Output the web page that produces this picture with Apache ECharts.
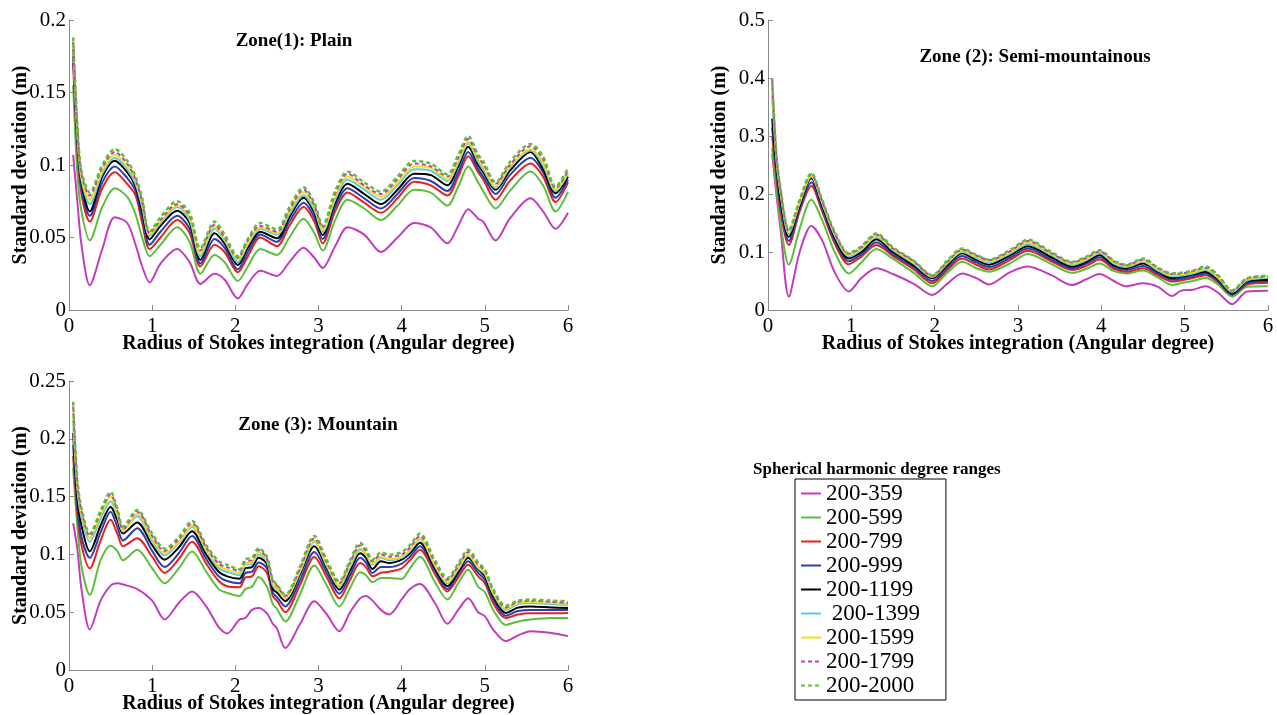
<!DOCTYPE html>
<html>
<head>
    <meta charset="utf-8">
    <title>Standard deviation vs radius of Stokes integration</title>
    <script src="https://cdn.jsdelivr.net/npm/echarts@6/dist/echarts.min.js"></script>
</head>
<body style="margin:0;background:#fff;">
    <div id="main" style="width:1277px;height:715px;"></div>
    <script type="text/javascript">
        // legend names (spherical harmonic degree ranges)
        var names = ['200-359', '200-599', '200-799', '200-999', '200-1199', '200-1399', '200-1599', '200-1799', '200-2000'];
        var xTicks = [0, 1, 2, 3, 4, 5, 6];

        // Zone 1: plain
        var plainX = [0.05, 0.1, 0.15, 0.25, 0.4, 0.55, 0.7, 0.8, 0.88, 0.97, 1.1, 1.3, 1.45, 1.58, 1.75, 1.87, 2.03, 2.15, 2.3, 2.5, 2.65, 2.82, 2.95, 3.05, 3.2, 3.35, 3.55, 3.75, 3.95, 4.15, 4.35, 4.55, 4.68, 4.8, 4.92, 4.98, 5.13, 5.3, 5.55, 5.7, 5.85, 6.0];
        var plain359 = [0.107, 0.075, 0.045, 0.017, 0.042, 0.064, 0.060, 0.045, 0.030, 0.019, 0.032, 0.042, 0.033, 0.018, 0.025, 0.021, 0.008, 0.018, 0.027, 0.0235, 0.033, 0.043, 0.036, 0.029, 0.044, 0.057, 0.052, 0.040, 0.050, 0.060, 0.057, 0.046, 0.058, 0.0695, 0.063, 0.061, 0.048, 0.063, 0.077, 0.068, 0.056, 0.067];
        var plain599 = [0.155, 0.095, 0.068, 0.048, 0.071, 0.084, 0.078, 0.066, 0.050, 0.037, 0.045, 0.057, 0.047, 0.025, 0.038, 0.033, 0.020, 0.030, 0.042, 0.038, 0.050, 0.063, 0.053, 0.041, 0.062, 0.076, 0.070, 0.062, 0.072, 0.083, 0.081, 0.072, 0.085, 0.099, 0.088, 0.082, 0.070, 0.082, 0.0955, 0.086, 0.068, 0.0815];
        var plain799 = [0.170, 0.110, 0.080, 0.061, 0.084, 0.095, 0.087, 0.079, 0.060, 0.042, 0.050, 0.062, 0.053, 0.030, 0.045, 0.040, 0.026, 0.037, 0.050, 0.044, 0.058, 0.071, 0.061, 0.046, 0.068, 0.081, 0.074, 0.067, 0.077, 0.0885, 0.086, 0.079, 0.092, 0.106, 0.095, 0.090, 0.076, 0.089, 0.101, 0.092, 0.0745, 0.088];
        var plain999 = [0.175, 0.115, 0.084, 0.065, 0.088, 0.099, 0.091, 0.082, 0.064, 0.045, 0.054, 0.065, 0.056, 0.032, 0.049, 0.043, 0.028, 0.040, 0.052, 0.047, 0.061, 0.074, 0.064, 0.049, 0.071, 0.084, 0.077, 0.070, 0.080, 0.091, 0.089, 0.082, 0.095, 0.109, 0.097, 0.092, 0.080, 0.093, 0.105, 0.095, 0.0775, 0.090];
        var plain1199 = [0.180, 0.120, 0.088, 0.068, 0.092, 0.103, 0.095, 0.085, 0.068, 0.0487, 0.058, 0.0685, 0.060, 0.0345, 0.053, 0.046, 0.031, 0.043, 0.054, 0.0494, 0.064, 0.0775, 0.067, 0.0517, 0.074, 0.087, 0.080, 0.073, 0.083, 0.094, 0.093, 0.086, 0.099, 0.1126, 0.100, 0.095, 0.083, 0.096, 0.109, 0.097, 0.0805, 0.092];
        var plain1399 = [0.182, 0.122, 0.090, 0.073, 0.094, 0.105, 0.097, 0.087, 0.071, 0.051, 0.060, 0.071, 0.062, 0.037, 0.056, 0.048, 0.033, 0.045, 0.056, 0.052, 0.066, 0.079, 0.069, 0.054, 0.076, 0.090, 0.083, 0.076, 0.086, 0.097, 0.096, 0.089, 0.101, 0.115, 0.102, 0.097, 0.084, 0.098, 0.110, 0.100, 0.082, 0.094];
        var plain1599 = [0.184, 0.124, 0.092, 0.076, 0.096, 0.107, 0.099, 0.089, 0.073, 0.052, 0.061, 0.072, 0.064, 0.039, 0.058, 0.049, 0.035, 0.046, 0.057, 0.053, 0.068, 0.081, 0.071, 0.055, 0.078, 0.092, 0.085, 0.078, 0.088, 0.099, 0.098, 0.090, 0.103, 0.116, 0.104, 0.099, 0.085, 0.099, 0.111, 0.102, 0.083, 0.095];
        var plain1799 = [0.185, 0.126, 0.094, 0.079, 0.098, 0.109, 0.101, 0.090, 0.075, 0.053, 0.062, 0.073, 0.065, 0.041, 0.059, 0.050, 0.036, 0.048, 0.058, 0.054, 0.069, 0.083, 0.072, 0.057, 0.080, 0.094, 0.086, 0.080, 0.090, 0.101, 0.099, 0.092, 0.105, 0.118, 0.105, 0.101, 0.087, 0.100, 0.113, 0.104, 0.084, 0.096];
        var plain2000 = [0.188, 0.128, 0.096, 0.081, 0.100, 0.111, 0.103, 0.092, 0.077, 0.054, 0.064, 0.075, 0.067, 0.0425, 0.061, 0.052, 0.037, 0.049, 0.060, 0.0556, 0.071, 0.0846, 0.074, 0.058, 0.082, 0.0954, 0.088, 0.0816, 0.092, 0.1028, 0.101, 0.0935, 0.107, 0.120, 0.107, 0.1028, 0.088, 0.102, 0.1145, 0.106, 0.085, 0.0977];

        // Zone 2: semi-mountainous
        var semiX = [0.05, 0.1, 0.15, 0.25, 0.38, 0.52, 0.65, 0.8, 0.97, 1.12, 1.3, 1.5, 1.75, 1.97, 2.15, 2.33, 2.5, 2.65, 2.9, 3.12, 3.4, 3.65, 3.82, 3.98, 4.15, 4.3, 4.5, 4.68, 4.85, 4.95, 5.1, 5.25, 5.4, 5.57, 5.75, 6.0];
        var semi359 = [0.269, 0.20, 0.14, 0.023, 0.10, 0.145, 0.12, 0.065, 0.032, 0.055, 0.072, 0.062, 0.045, 0.026, 0.045, 0.063, 0.055, 0.044, 0.065, 0.075, 0.060, 0.043, 0.053, 0.062, 0.050, 0.041, 0.046, 0.040, 0.024, 0.033, 0.035, 0.041, 0.030, 0.010, 0.032, 0.033];
        var semi599 = [0.28, 0.21, 0.15, 0.078, 0.14, 0.19, 0.155, 0.10, 0.063, 0.082, 0.105, 0.088, 0.064, 0.041, 0.064, 0.083, 0.072, 0.066, 0.080, 0.0966, 0.079, 0.064, 0.071, 0.080, 0.067, 0.063, 0.068, 0.056, 0.043, 0.046, 0.050, 0.055, 0.044, 0.023, 0.040, 0.041];
        var semi799 = [0.30, 0.23, 0.17, 0.112, 0.17, 0.214, 0.17, 0.115, 0.079, 0.092, 0.112, 0.093, 0.070, 0.046, 0.069, 0.089, 0.078, 0.070, 0.086, 0.102, 0.084, 0.069, 0.076, 0.087, 0.071, 0.066, 0.072, 0.060, 0.049, 0.051, 0.055, 0.060, 0.048, 0.026, 0.044, 0.047];
        var semi999 = [0.315, 0.24, 0.18, 0.119, 0.175, 0.220, 0.175, 0.12, 0.084, 0.096, 0.117, 0.096, 0.074, 0.050, 0.073, 0.093, 0.082, 0.074, 0.090, 0.106, 0.087, 0.072, 0.080, 0.091, 0.074, 0.069, 0.076, 0.063, 0.052, 0.054, 0.058, 0.063, 0.050, 0.027, 0.046, 0.050];
        var semi1199 = [0.33, 0.25, 0.19, 0.126, 0.18, 0.227, 0.18, 0.125, 0.089, 0.100, 0.122, 0.100, 0.077, 0.0546, 0.077, 0.098, 0.086, 0.078, 0.094, 0.110, 0.091, 0.075, 0.083, 0.095, 0.077, 0.072, 0.080, 0.066, 0.055, 0.057, 0.061, 0.066, 0.053, 0.029, 0.049, 0.052];
        var semi1399 = [0.37, 0.26, 0.20, 0.131, 0.184, 0.230, 0.184, 0.129, 0.093, 0.104, 0.126, 0.103, 0.080, 0.057, 0.080, 0.100, 0.090, 0.082, 0.097, 0.114, 0.095, 0.078, 0.086, 0.098, 0.080, 0.074, 0.083, 0.068, 0.058, 0.059, 0.063, 0.069, 0.055, 0.031, 0.051, 0.055];
        var semi1599 = [0.39, 0.265, 0.205, 0.134, 0.186, 0.232, 0.186, 0.131, 0.095, 0.106, 0.128, 0.105, 0.082, 0.058, 0.082, 0.102, 0.092, 0.084, 0.099, 0.117, 0.097, 0.080, 0.088, 0.100, 0.082, 0.076, 0.085, 0.070, 0.060, 0.061, 0.065, 0.071, 0.057, 0.032, 0.053, 0.057];
        var semi1799 = [0.395, 0.268, 0.208, 0.136, 0.188, 0.234, 0.188, 0.133, 0.097, 0.108, 0.130, 0.106, 0.084, 0.059, 0.083, 0.104, 0.094, 0.086, 0.101, 0.119, 0.098, 0.082, 0.090, 0.101, 0.084, 0.077, 0.087, 0.072, 0.062, 0.063, 0.067, 0.073, 0.059, 0.033, 0.054, 0.058];
        var semi2000 = [0.40, 0.27, 0.21, 0.138, 0.19, 0.236, 0.19, 0.135, 0.098, 0.110, 0.132, 0.108, 0.085, 0.060, 0.085, 0.106, 0.095, 0.087, 0.103, 0.121, 0.100, 0.083, 0.092, 0.103, 0.085, 0.078, 0.089, 0.073, 0.063, 0.064, 0.068, 0.075, 0.060, 0.034, 0.055, 0.059];

        // Zone 3: mountain
        var mountX = [0.05, 0.1, 0.15, 0.25, 0.38, 0.5, 0.58, 0.65, 0.82, 1.0, 1.15, 1.32, 1.48, 1.65, 1.8, 1.9, 2.05, 2.12, 2.2, 2.28, 2.38, 2.45, 2.5, 2.6, 2.78, 2.95, 3.1, 3.25, 3.38, 3.5, 3.57, 3.65, 3.75, 3.85, 4.0, 4.1, 4.22, 4.4, 4.55, 4.68, 4.8, 4.92, 5.0, 5.1, 5.25, 5.4, 5.55, 5.8, 6.0];
        var mount359 = [0.127, 0.105, 0.07, 0.035, 0.060, 0.073, 0.075, 0.074, 0.070, 0.060, 0.0437, 0.058, 0.068, 0.055, 0.037, 0.0316, 0.0437, 0.045, 0.052, 0.0537, 0.049, 0.040, 0.036, 0.019, 0.040, 0.0595, 0.048, 0.0336, 0.050, 0.062, 0.064, 0.060, 0.052, 0.048, 0.061, 0.070, 0.0744, 0.058, 0.040, 0.052, 0.062, 0.050, 0.0466, 0.035, 0.025, 0.030, 0.0336, 0.032, 0.0293];
        var mount599 = [0.175, 0.125, 0.09, 0.065, 0.095, 0.1075, 0.103, 0.095, 0.104, 0.088, 0.075, 0.088, 0.1026, 0.085, 0.070, 0.0667, 0.064, 0.070, 0.072, 0.0805, 0.072, 0.057, 0.053, 0.042, 0.066, 0.0905, 0.073, 0.055, 0.071, 0.0845, 0.082, 0.076, 0.0796, 0.0796, 0.0787, 0.088, 0.098, 0.076, 0.061, 0.075, 0.0868, 0.072, 0.0675, 0.052, 0.039, 0.042, 0.0437, 0.045, 0.045];
        var mount799 = [0.185, 0.135, 0.108, 0.088, 0.112, 0.130, 0.118, 0.107, 0.114, 0.098, 0.084, 0.096, 0.111, 0.092, 0.077, 0.0724, 0.0716, 0.080, 0.081, 0.0897, 0.084, 0.064, 0.060, 0.050, 0.074, 0.0977, 0.080, 0.062, 0.078, 0.0925, 0.089, 0.081, 0.084, 0.085, 0.088, 0.095, 0.104, 0.083, 0.068, 0.080, 0.091, 0.081, 0.075, 0.058, 0.045, 0.048, 0.049, 0.049, 0.0494];
        var mount999 = [0.195, 0.142, 0.115, 0.097, 0.119, 0.137, 0.124, 0.112, 0.1227, 0.103, 0.089, 0.101, 0.116, 0.096, 0.081, 0.077, 0.075, 0.084, 0.085, 0.093, 0.088, 0.067, 0.063, 0.055, 0.078, 0.102, 0.084, 0.066, 0.082, 0.097, 0.093, 0.084, 0.089, 0.089, 0.092, 0.098, 0.107, 0.086, 0.070, 0.083, 0.094, 0.084, 0.078, 0.061, 0.047, 0.051, 0.052, 0.052, 0.052];
        var mount1199 = [0.205, 0.150, 0.125, 0.1026, 0.125, 0.141, 0.130, 0.118, 0.1276, 0.108, 0.0954, 0.106, 0.120, 0.100, 0.085, 0.081, 0.079, 0.088, 0.089, 0.097, 0.0917, 0.070, 0.067, 0.0595, 0.083, 0.107, 0.088, 0.0695, 0.086, 0.101, 0.097, 0.0874, 0.094, 0.0925, 0.0954, 0.101, 0.110, 0.088, 0.0724, 0.085, 0.097, 0.087, 0.081, 0.064, 0.0494, 0.054, 0.055, 0.054, 0.0537];
        var mount1399 = [0.215, 0.157, 0.132, 0.111, 0.131, 0.146, 0.134, 0.121, 0.133, 0.112, 0.099, 0.110, 0.124, 0.103, 0.088, 0.085, 0.082, 0.091, 0.092, 0.100, 0.094, 0.073, 0.070, 0.062, 0.085, 0.111, 0.090, 0.072, 0.089, 0.104, 0.100, 0.091, 0.097, 0.095, 0.097, 0.103, 0.113, 0.090, 0.075, 0.087, 0.099, 0.088, 0.083, 0.066, 0.052, 0.057, 0.058, 0.057, 0.056];
        var mount1599 = [0.222, 0.160, 0.135, 0.114, 0.134, 0.150, 0.135, 0.120, 0.135, 0.114, 0.101, 0.111, 0.125, 0.104, 0.090, 0.087, 0.084, 0.092, 0.093, 0.102, 0.095, 0.075, 0.071, 0.062, 0.086, 0.112, 0.091, 0.073, 0.091, 0.106, 0.101, 0.092, 0.098, 0.096, 0.098, 0.104, 0.114, 0.091, 0.076, 0.088, 0.100, 0.089, 0.084, 0.067, 0.053, 0.058, 0.059, 0.058, 0.057];
        var mount1799 = [0.228, 0.162, 0.138, 0.116, 0.136, 0.152, 0.138, 0.122, 0.137, 0.116, 0.103, 0.113, 0.127, 0.106, 0.092, 0.089, 0.086, 0.094, 0.095, 0.104, 0.096, 0.077, 0.073, 0.064, 0.088, 0.114, 0.093, 0.075, 0.093, 0.108, 0.103, 0.094, 0.100, 0.098, 0.100, 0.106, 0.116, 0.093, 0.078, 0.090, 0.102, 0.091, 0.086, 0.069, 0.054, 0.059, 0.060, 0.059, 0.058];
        var mount2000 = [0.232, 0.165, 0.14, 0.118, 0.138, 0.154, 0.140, 0.124, 0.1385, 0.118, 0.105, 0.115, 0.129, 0.108, 0.094, 0.091, 0.087, 0.096, 0.097, 0.1055, 0.098, 0.078, 0.074, 0.065, 0.090, 0.116, 0.095, 0.0767, 0.095, 0.110, 0.105, 0.0954, 0.1017, 0.0997, 0.102, 0.108, 0.118, 0.095, 0.0796, 0.092, 0.104, 0.093, 0.087, 0.070, 0.0557, 0.060, 0.061, 0.060, 0.0595];

        var lineStyles = [
            {color: '#c23dbb', type: 'solid', width: 2},
            {color: '#5cbf3c', type: 'solid', width: 2},
            {color: '#e5221d', type: 'solid', width: 2},
            {color: '#2b3fae', type: 'solid', width: 2},
            {color: '#000000', type: 'solid', width: 2},
            {color: '#5ecbdc', type: 'solid', width: 2},
            {color: '#f3e01a', type: 'solid', width: 2},
            {color: '#c23dbb', type: [4, 3], width: 2},
            {color: '#5cbf3c', type: [4, 3], width: 2.5}
        ];

        var serif = 'Liberation Serif';

        function makeSeries(gi, xs, lists) {
            return lists.map(function (ys, i) {
                return {
                    name: names[i],
                    type: 'line',
                    xAxisIndex: gi,
                    yAxisIndex: gi,
                    symbol: 'none',
                    smooth: 0.3,
                    silent: true,
                    lineStyle: lineStyles[i],
                    itemStyle: {color: lineStyles[i].color},
                    data: ys.map(function (y, j) { return [xs[j], y]; })
                };
            });
        }

        var series = [].concat(
            makeSeries(0, plainX, [plain359, plain599, plain799, plain999, plain1199, plain1399, plain1599, plain1799, plain2000]),
            makeSeries(1, semiX, [semi359, semi599, semi799, semi999, semi1199, semi1399, semi1599, semi1799, semi2000]),
            makeSeries(2, mountX, [mount359, mount599, mount799, mount999, mount1199, mount1399, mount1599, mount1799, mount2000])
        );

        function xAx(gi) {
            return {
                type: 'value', gridIndex: gi, min: xTicks[0], max: xTicks[xTicks.length - 1], interval: 1,
                name: 'Radius of Stokes integration (Angular degree)',
                nameLocation: 'middle', nameGap: 24, nameMoveOverlap: false,
                nameTextStyle: {fontFamily: serif, fontWeight: 'bold', fontSize: 20, color: '#000'},
                axisLine: {lineStyle: {color: '#888', width: 1}},
                axisTick: {inside: true, length: 5, lineStyle: {color: '#888'}},
                axisLabel: {fontFamily: serif, fontSize: 21, color: '#000', margin: 6},
                splitLine: {show: false}
            };
        }
        function yAx(gi, max, step) {
            return {
                type: 'value', gridIndex: gi, min: 0, max: max, interval: step,
                name: 'Standard deviation (m)',
                nameLocation: 'middle', nameGap: 38, nameMoveOverlap: false,
                nameTextStyle: {fontFamily: serif, fontWeight: 'bold', fontSize: 20, color: '#000'},
                axisLine: {show: true, lineStyle: {color: '#888', width: 1}},
                axisTick: {show: true, inside: true, length: 5, lineStyle: {color: '#888'}},
                axisLabel: {fontFamily: serif, fontSize: 21, color: '#000', margin: 3},
                splitLine: {show: false}
            };
        }

        var myChart = echarts.init(document.getElementById('main'));
        var option = {
            backgroundColor: '#fff',
            animation: false,
            title: [
                {text: 'Zone(1): Plain', left: 289, top: 27, textAlign: 'center',
                    textStyle: {fontFamily: serif, fontWeight: 'bold', fontSize: 19, color: '#000'}},
                {text: 'Zone (2): Semi-mountainous', left: 1030, top: 43, textAlign: 'center',
                    textStyle: {fontFamily: serif, fontWeight: 'bold', fontSize: 19, color: '#000'}},
                {text: 'Zone (3): Mountain', left: 313, top: 411, textAlign: 'center',
                    textStyle: {fontFamily: serif, fontWeight: 'bold', fontSize: 19, color: '#000'}},
                {text: 'Spherical harmonic degree ranges', left: 748, top: 456,
                    textStyle: {fontFamily: serif, fontWeight: 'bold', fontSize: 17, color: '#000'}}
            ],
            legend: {
                data: names,
                orient: 'vertical',
                left: 795, top: 479,
                padding: [3, 26, 3, 5],
                itemGap: 1,
                itemWidth: 20, itemHeight: 14,
                itemTextGap: 1,
                borderColor: '#000', borderWidth: 1,
                selectedMode: false,
                itemStyle: {opacity: 0},
                textStyle: {fontFamily: serif, fontSize: 23, color: '#000', lineHeight: 22},
                formatter: function (n) { return n === '200-1399' ? ' ' + n : n; }
            },
            grid: [
                {left: 69, top: 20, width: 499, height: 290},
                {left: 768, top: 20, width: 500, height: 290},
                {left: 69, top: 381, width: 499, height: 290}
            ],
            xAxis: [xAx(0), xAx(1), xAx(2)],
            yAxis: [yAx(0, 0.2, 0.05), yAx(1, 0.5, 0.1), yAx(2, 0.25, 0.05)],
            series: series
        };
        myChart.setOption(option);
    </script>
</body>
</html>
